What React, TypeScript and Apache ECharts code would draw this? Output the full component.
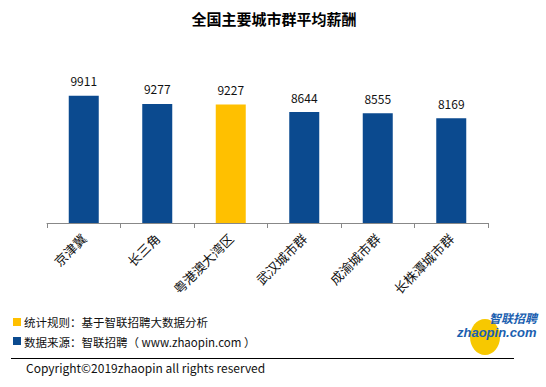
import React, { useEffect, useRef } from "react";
import * as echarts from "echarts";

const categories = ["京津冀", "长三角", "粤港澳大湾区", "武汉城市群", "成渝城市群", "长株潭城市群"];
const salaries = [9911, 9277, 9227, 8644, 8555, 8169];
const highlightCategory = "粤港澳大湾区";
const yTicks = [0, 12000];

const BLUE = "#0b4a8f";
const YELLOW = "#ffc000";
const FONT = "'Noto Sans CJK SC', 'Noto Sans', sans-serif";

export default function App() {
  const ref = useRef<HTMLDivElement>(null);
  useEffect(() => {
    document.body.style.margin = "0";
    if (!ref.current) return;
    const chart = echarts.init(ref.current, null, { renderer: "svg" });
    chart.setOption({
      animation: false,
      backgroundColor: "#ffffff",
      textStyle: { fontFamily: FONT },
      grid: { left: 47, right: 58, top: 69, bottom: 164, containLabel: false },
      xAxis: {
        type: "category",
        data: categories,
        axisLine: { lineStyle: { color: "#888888", width: 1 } },
        axisTick: { show: true, length: 5, lineStyle: { color: "#888888" } },
        axisLabel: {
          rotate: 45,
          interval: 0,
          margin: 13,
          fontSize: 13,
          color: "#111111",
          fontFamily: FONT,
        },
      },
      yAxis: {
        type: "value",
        min: yTicks[0],
        max: yTicks[1],
        show: false,
        splitLine: { show: false },
      },
      series: [
        {
          type: "bar",
          barWidth: 30,
          data: salaries.map((v, i) => ({
            value: v,
            itemStyle: { color: categories[i] === highlightCategory ? YELLOW : BLUE },
          })),
          label: {
            show: true,
            position: "top",
            distance: 9,
            fontSize: 12,
            color: "#111111",
            fontFamily: FONT,
          },
        },
      ],
      graphic: [
        {
          type: "text",
          x: 274,
          y: 18.5,
          style: {
            text: "全国主要城市群平均薪酬",
            fontSize: 15,
            fontWeight: "bold",
            fontFamily: FONT,
            fill: "#000000",
            textAlign: "center",
            textVerticalAlign: "middle",
          },
        },
        { type: "rect", shape: { x: 13, y: 318, width: 8, height: 8 }, style: { fill: YELLOW } },
        {
          type: "text",
          x: 24,
          y: 322,
          style: {
            text: "统计规则：基于智联招聘大数据分析",
            fontSize: 11.5,
            fontFamily: FONT,
            fill: "#111111",
            textVerticalAlign: "middle",
          },
        },
        { type: "rect", shape: { x: 13, y: 337, width: 8, height: 8 }, style: { fill: BLUE } },
        {
          type: "text",
          x: 24,
          y: 341.5,
          style: {
            text: "数据来源：智联招聘（ www.zhaopin.com ）",
            fontSize: 11.5,
            fontFamily: FONT,
            fill: "#111111",
            textVerticalAlign: "middle",
          },
        },
        {
          type: "line",
          shape: { x1: 11, y1: 358.5, x2: 514, y2: 358.5 },
          style: { stroke: "#000000", lineWidth: 1 },
        },
        {
          type: "text",
          x: 26,
          y: 367.5,
          style: {
            text: "Copyright©2019zhaopin all rights reserved",
            fontSize: 12,
            fontFamily: FONT,
            fill: "#111111",
            textVerticalAlign: "middle",
          },
        },
        {
          type: "ellipse",
          shape: { cx: 485, cy: 337, rx: 15, ry: 18 },
          style: { fill: "#f7c800" },
        },
        {
          type: "text",
          x: 489,
          y: 317,
          style: {
            text: "智联招聘",
            fontSize: 12,
            lineHeight: 12,
            fontWeight: "bold",
            fontStyle: "italic",
            fontFamily: FONT,
            fill: "#1b5fb0",
            textVerticalAlign: "middle",
          },
        },
        {
          type: "text",
          x: 457,
          y: 332.5,
          style: {
            text: "zhaopin.com",
            fontSize: 13,
            lineHeight: 13,
            fontWeight: "bold",
            fontStyle: "italic",
            fontFamily: "'Liberation Sans', Arial, sans-serif",
            fill: "#1b5fb0",
            textVerticalAlign: "middle",
          },
        },
      ],
    });
    return () => chart.dispose();
  }, []);
  return <div ref={ref} style={{ width: 546, height: 387 }} />;
}
